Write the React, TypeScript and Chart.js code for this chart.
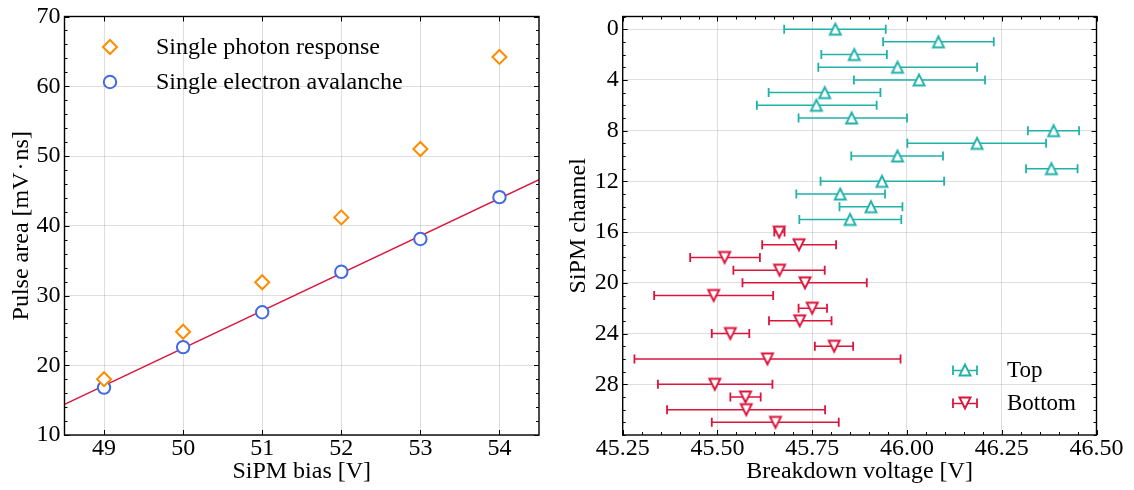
import React, { useEffect, useRef } from 'react';
import { Chart, registerables } from 'chart.js';

Chart.register(...registerables);

const SERIF = '"Liberation Serif", "Times New Roman", Times, serif';

// ---------- Left panel data ----------
const biasVoltage = [49, 50, 51, 52, 53, 54];
const photonResponse = [18.0, 24.8, 31.9, 41.2, 51.0, 64.2];
const electronAvalanche = [16.8, 22.6, 27.6, 33.4, 38.1, 44.1];
const fitBias = [48.5, 54.5];
const fitArea = [14.4, 46.6];
const biasTicks = [49, 50, 51, 52, 53, 54];
const areaTicks = [10, 20, 30, 40, 50, 60, 70];

// ---------- Right panel data ----------
const topChannels = [0, 1, 2, 3, 4, 5, 6, 7, 8, 9, 10, 11, 12, 13, 14, 15];
const topBreakdown = [45.811, 46.083, 45.861, 45.975, 46.032, 45.783, 45.761, 45.854, 46.387, 46.185, 45.975, 46.381, 45.934, 45.824, 45.905, 45.850];
const topLow = [45.676, 45.937, 45.774, 45.766, 45.860, 45.635, 45.604, 45.714, 46.319, 46.001, 45.853, 46.314, 45.772, 45.708, 45.822, 45.716];
const topHigh = [45.944, 46.229, 45.947, 46.185, 46.206, 45.930, 45.920, 46.000, 46.454, 46.367, 46.095, 46.450, 46.098, 45.942, 45.988, 45.985];

const bottomChannels = [16, 17, 18, 19, 20, 21, 22, 23, 24, 25, 26, 27, 28, 29, 30, 31];
const bottomBreakdown = [45.663, 45.715, 45.519, 45.664, 45.731, 45.490, 45.750, 45.717, 45.534, 45.808, 45.632, null, 45.493, 45.574, 45.576, 45.653];
const bottomLow = [45.650, 45.618, 45.428, 45.542, 45.566, 45.333, 45.714, 45.636, 45.485, 45.757, 45.281, null, 45.343, 45.534, 45.367, 45.485];
const bottomHigh = [45.677, 45.813, 45.612, 45.783, 45.894, 45.647, 45.789, 45.801, 45.584, 45.858, 45.983, null, 45.645, 45.614, 45.784, 45.820];

const voltageTicks = [45.25, 45.5, 45.75, 46.0, 46.25, 46.5];
const channelTicks = [0, 4, 8, 12, 16, 20, 24, 28];

// ---------- Styles ----------
const ORANGE = '#ff8c00';
const BLUE = '#4169e1';
const CRIMSON = '#dc143c';
const TEAL = '#20b2aa';
const GRID = 'rgba(0,0,0,0.13)';
const TICK_FONT = { family: SERIF, size: 24, lineHeight: 1 };
const TITLE_FONT = { family: SERIF, size: 24, lineHeight: 1 };
const LEFT_LEGEND_FONT = `24px ${SERIF}`;
const RIGHT_LEGEND_FONT = `23px ${SERIF}`;

function range(a: number, b: number, step: number) {
  const out: number[] = [];
  const n = Math.round((b - a) / step);
  for (let i = 0; i <= n; i++) out.push(+(a + i * step).toFixed(6));
  return out;
}

function triangleImage(color: string, down: boolean) {
  const c = document.createElement('canvas');
  c.width = 20;
  c.height = 20;
  const g = c.getContext('2d')!;
  const m = 10;
  const h = 5.4;
  g.beginPath();
  if (!down) {
    g.moveTo(m, m - h);
    g.lineTo(m + h, m + h);
    g.lineTo(m - h, m + h);
  } else {
    g.moveTo(m, m + h);
    g.lineTo(m + h, m - h);
    g.lineTo(m - h, m - h);
  }
  g.closePath();
  g.fillStyle = '#fff';
  g.fill();
  g.lineWidth = 2;
  g.strokeStyle = color;
  g.stroke();
  return c;
}

function errorBarPoints(channels: number[], lo: (number | null)[], hi: (number | null)[]) {
  const pts: { x: number; y: number | null }[] = [];
  channels.forEach((ch, i) => {
    if (lo[i] == null || hi[i] == null) return;
    pts.push({ x: lo[i] as number, y: ch }, { x: hi[i] as number, y: ch }, { x: hi[i] as number, y: null });
  });
  return pts;
}

function framePlugin(cfg: { xMajor: number[]; xMinor: number[]; yMajor: number[]; yMinor: number[] }) {
  return {
    id: 'frameTicks',
    afterDatasetsDraw(chart: any) {
      const { ctx, chartArea: a, scales } = chart;
      const xs = scales.x;
      const ys = scales.y;
      ctx.save();
      ctx.strokeStyle = '#000';
      ctx.lineWidth = 1;
      const drawX = (vals: number[], len: number) => {
        vals.forEach((v) => {
          const p = Math.round(xs.getPixelForValue(v)) + 0.5;
          ctx.beginPath();
          ctx.moveTo(p, a.bottom);
          ctx.lineTo(p, a.bottom - len);
          ctx.moveTo(p, a.top);
          ctx.lineTo(p, a.top + len);
          ctx.stroke();
        });
      };
      const drawY = (vals: number[], len: number) => {
        vals.forEach((v) => {
          const p = Math.round(ys.getPixelForValue(v)) + 0.5;
          ctx.beginPath();
          ctx.moveTo(a.left, p);
          ctx.lineTo(a.left + len, p);
          ctx.moveTo(a.right, p);
          ctx.lineTo(a.right - len, p);
          ctx.stroke();
        });
      };
      drawX(cfg.xMajor, 5);
      drawX(cfg.xMinor, 3);
      drawY(cfg.yMajor, 5);
      drawY(cfg.yMinor, 3);
      ctx.lineWidth = 1.4;
      ctx.strokeRect(a.left, a.top, a.right - a.left, a.bottom - a.top);
      ctx.restore();
    },
  };
}

const leftLegendPlugin = {
  id: 'leftLegend',
  afterDraw(chart: any) {
    const { ctx } = chart;
    const labels = [chart.data.datasets[0].label, chart.data.datasets[1].label];
    ctx.save();
    const x = 110;
    let y = 47;
    ctx.beginPath();
    ctx.moveTo(x - 7, y);
    ctx.lineTo(x, y - 7);
    ctx.lineTo(x + 7, y);
    ctx.lineTo(x, y + 7);
    ctx.closePath();
    ctx.fillStyle = '#fff';
    ctx.fill();
    ctx.lineWidth = 2;
    ctx.strokeStyle = ORANGE;
    ctx.stroke();
    y = 82;
    ctx.beginPath();
    ctx.arc(x, y, 6.2, 0, Math.PI * 2);
    ctx.fill();
    ctx.strokeStyle = BLUE;
    ctx.stroke();
    ctx.fillStyle = '#000';
    ctx.font = LEFT_LEGEND_FONT;
    ctx.textBaseline = 'middle';
    ctx.textAlign = 'left';
    ctx.fillText(labels[0], 156, 48);
    ctx.fillText(labels[1], 156, 83);
    ctx.restore();
  },
};

function makeRightLegendPlugin(upImg: HTMLCanvasElement, downImg: HTMLCanvasElement) {
  return {
    id: 'rightLegend',
    afterDraw(chart: any) {
      const { ctx } = chart;
      const items = [
        { label: chart.data.datasets[0].label, color: TEAL, img: upImg, y: 370 },
        { label: chart.data.datasets[1].label, color: CRIMSON, img: downImg, y: 403 },
      ];
      const cx = 398;
      ctx.save();
      items.forEach((it) => {
        ctx.strokeStyle = it.color;
        ctx.lineWidth = 1.5;
        ctx.beginPath();
        ctx.moveTo(cx - 12, it.y + 0.5);
        ctx.lineTo(cx + 12, it.y + 0.5);
        ctx.stroke();
        ctx.lineWidth = 1.8;
        ctx.beginPath();
        ctx.moveTo(cx - 12, it.y - 4.5);
        ctx.lineTo(cx - 12, it.y + 5);
        ctx.moveTo(cx + 12, it.y - 4.5);
        ctx.lineTo(cx + 12, it.y + 5);
        ctx.stroke();
        ctx.drawImage(it.img, cx - it.img.width / 2, it.y - it.img.height / 2);
        ctx.fillStyle = '#000';
        ctx.font = RIGHT_LEGEND_FONT;
        ctx.textBaseline = 'middle';
        ctx.textAlign = 'left';
        ctx.fillText(it.label, 440, it.y + 1);
      });
      ctx.restore();
    },
  };
}

export default function App() {
  const leftRef = useRef<HTMLCanvasElement>(null);
  const rightRef = useRef<HTMLCanvasElement>(null);

  useEffect(() => {
    const upImg = triangleImage(TEAL, false);
    const downImg = triangleImage(CRIMSON, true);

    const left = new Chart(leftRef.current!, {
      type: 'scatter',
      data: {
        datasets: [
          {
            label: 'Single photon response',
            data: biasVoltage.map((x, i) => ({ x, y: photonResponse[i] })),
            pointStyle: 'rectRot',
            pointRadius: 7,
            pointBorderWidth: 2,
            borderColor: ORANGE,
            backgroundColor: '#fff',
          },
          {
            label: 'Single electron avalanche',
            data: biasVoltage.map((x, i) => ({ x, y: electronAvalanche[i] })),
            pointStyle: 'circle',
            pointRadius: 6.2,
            pointBorderWidth: 2,
            borderColor: BLUE,
            backgroundColor: '#fff',
          },
          {
            label: 'Fit',
            data: fitBias.map((x, i) => ({ x, y: fitArea[i] })),
            showLine: true,
            borderColor: CRIMSON,
            borderWidth: 1.4,
            pointRadius: 0,
          },
        ],
      } as any,
      options: {
        responsive: false,
        animation: false,
        events: [],
        layout: { padding: { left: 0, top: 16.5, right: 567 - 539, bottom: 0 } },
        plugins: { legend: { display: false }, tooltip: { enabled: false } },
        scales: {
          x: {
            type: 'linear',
            min: 48.5,
            max: 54.5,
            afterBuildTicks: (s: any) => {
              s.ticks = biasTicks.map((v) => ({ value: v }));
            },
            afterFit: (s: any) => {
              s.height = 490 - 435;
            },
            grid: { color: GRID, drawTicks: false },
            border: { display: false },
            ticks: { font: TICK_FONT, color: '#000', padding: 2, maxRotation: 0, autoSkip: false, callback: (v: any) => String(v) },
            title: { display: true, text: 'SiPM bias [V]', font: TITLE_FONT, color: '#000', padding: { top: 0, bottom: 6 } },
          },
          y: {
            type: 'linear',
            min: 10,
            max: 70,
            afterBuildTicks: (s: any) => {
              s.ticks = areaTicks.map((v) => ({ value: v }));
            },
            afterFit: (s: any) => {
              s.width = 64.5;
            },
            grid: { color: GRID, drawTicks: false },
            border: { display: false },
            ticks: { font: TICK_FONT, color: '#000', padding: 4, autoSkip: false, callback: (v: any) => String(v) },
            title: { display: true, text: 'Pulse area [mV\u200A·\u200Ans]', font: TITLE_FONT, color: '#000', padding: { top: 10, bottom: 0 } },
          },
        },
      } as any,
      plugins: [
        framePlugin({ xMajor: biasTicks, xMinor: [], yMajor: areaTicks, yMinor: range(10, 70, 2) }),
        leftLegendPlugin,
      ],
    });

    const right = new Chart(rightRef.current!, {
      type: 'scatter',
      data: {
        datasets: [
          {
            label: 'Top',
            data: topChannels.map((ch, i) => ({ x: topBreakdown[i], y: ch })),
            pointStyle: upImg,
            pointRadius: 6,
            borderColor: TEAL,
          },
          {
            label: 'Bottom',
            data: bottomChannels
              .map((ch, i) => ({ x: bottomBreakdown[i], y: ch }))
              .filter((p) => p.x != null),
            pointStyle: downImg,
            pointRadius: 6,
            borderColor: CRIMSON,
          },
          {
            label: 'Top error',
            data: errorBarPoints(topChannels, topLow, topHigh),
            showLine: true,
            spanGaps: false,
            borderColor: TEAL,
            borderWidth: 1.5,
            pointStyle: 'line',
            pointRotation: 90,
            pointRadius: 4.5,
            pointBorderWidth: 1.8,
            pointBorderColor: TEAL,
          },
          {
            label: 'Bottom error',
            data: errorBarPoints(bottomChannels, bottomLow, bottomHigh),
            showLine: true,
            spanGaps: false,
            borderColor: CRIMSON,
            borderWidth: 1.5,
            pointStyle: 'line',
            pointRotation: 90,
            pointRadius: 4.5,
            pointBorderWidth: 1.8,
            pointBorderColor: CRIMSON,
          },
        ],
      } as any,
      options: {
        responsive: false,
        animation: false,
        events: [],
        layout: { padding: { left: 0, top: 16.5, right: 567 - 1096.5 + 567, bottom: 0 } },
        plugins: { legend: { display: false }, tooltip: { enabled: false } },
        scales: {
          x: {
            type: 'linear',
            min: 45.25,
            max: 46.5,
            afterBuildTicks: (s: any) => {
              s.ticks = voltageTicks.map((v) => ({ value: v }));
            },
            afterFit: (s: any) => {
              s.height = 490 - 435;
            },
            grid: { color: GRID, drawTicks: false },
            border: { display: false },
            ticks: { font: TICK_FONT, color: '#000', padding: 2, maxRotation: 0, autoSkip: false, callback: (v: any) => Number(v).toFixed(2) },
            title: { display: true, text: 'Breakdown voltage [V]', font: TITLE_FONT, color: '#000', padding: { top: 0, bottom: 6 } },
          },
          y: {
            type: 'linear',
            reverse: true,
            min: -1,
            max: 32,
            afterBuildTicks: (s: any) => {
              s.ticks = channelTicks.map((v) => ({ value: v }));
            },
            afterFit: (s: any) => {
              s.width = 622.7 - 567;
            },
            grid: { color: GRID, drawTicks: false },
            border: { display: false },
            ticks: { font: TICK_FONT, color: '#000', padding: 4, autoSkip: false, callback: (v: any) => String(v) },
            title: { display: true, text: 'SiPM channel', font: TITLE_FONT, color: '#000', padding: { top: 0, bottom: 0 } },
          },
        },
      } as any,
      plugins: [
        framePlugin({ xMajor: voltageTicks, xMinor: range(45.25, 46.5, 0.05), yMajor: channelTicks, yMinor: range(-1, 32, 1) }),
        makeRightLegendPlugin(upImg, downImg),
      ],
    });

    return () => {
      left.destroy();
      right.destroy();
    };
  }, []);

  return (
    <div style={{ position: 'fixed', left: 0, top: 0, width: 1134, height: 490, background: '#fff' }}>
      <canvas ref={leftRef} width={567} height={490} style={{ position: 'absolute', left: 0, top: 0 }} />
      <canvas ref={rightRef} width={567} height={490} style={{ position: 'absolute', left: 567, top: 0 }} />
    </div>
  );
}
